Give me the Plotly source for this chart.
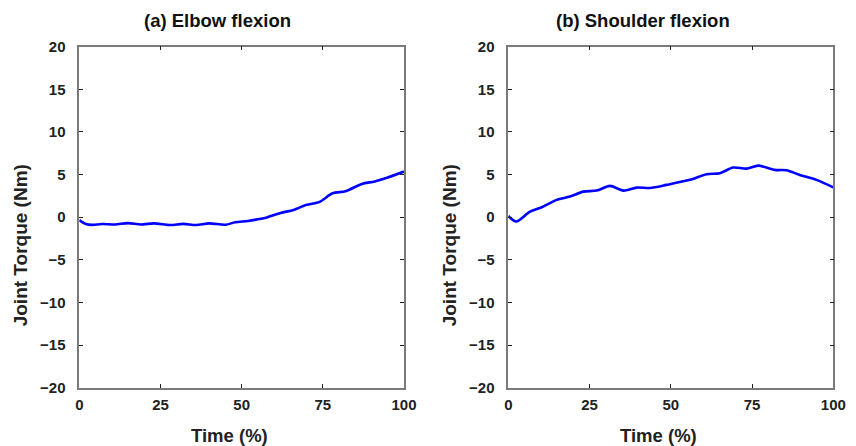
import plotly.graph_objects as go

# Data
elbow_t = [0, 2, 4, 7, 11, 15, 19, 23, 28, 32, 36, 40, 45, 48, 52, 55, 58, 62, 66, 70, 74, 78, 82, 87, 91, 95, 100]
elbow_v = [-0.35, -0.8, -0.9, -0.8, -0.85, -0.7, -0.85, -0.72, -0.92, -0.78, -0.92, -0.72, -0.88, -0.6,
           -0.45, -0.25, 0.0, 0.5, 0.85, 1.45, 1.8, 2.8, 3.05, 3.9, 4.2, 4.65, 5.35]

shoulder_t = [0, 2.4, 6.7, 10.3, 14.9, 19, 23.1, 27.2, 31.3, 35.4, 39.5, 43.6, 48.7, 55.9, 61, 65.1,
              69.2, 73.3, 76.9, 82, 85.6, 89.7, 94.8, 100]
shoulder_v = [0.15, -0.5, 0.66, 1.17, 2.03, 2.42, 3.0, 3.12, 3.67, 3.12, 3.47, 3.43, 3.79, 4.38, 5.04, 5.16,
              5.82, 5.7, 6.05, 5.55, 5.5, 4.96, 4.38, 3.5]

titles = ["(a) Elbow flexion", "(b) Shoulder flexion"]
x_ticks = [0, 25, 50, 75, 100]
y_ticks = [-20, -15, -10, -5, 0, 5, 10, 15, 20]

W, H = 856, 446
FONT = "Liberation Sans, Arial, sans-serif"
TXT = "#222222"

fig = go.Figure()
panels = [
    (elbow_t, elbow_v, 79.3, 404.0, "x", "y", 217.5, 229),
    (shoulder_t, shoulder_v, 508.3, 833.3, "x2", "y2", 642.5, 658),
]
top, bottom = 46.7, 387.7
layout = {}
for i, (t, v, x0, x1, xa, ya, tcx, xtcx) in enumerate(panels):
    fig.add_trace(go.Scatter(x=t, y=v, mode="lines", line=dict(color="#0000ff", width=2.6, shape="spline", smoothing=0.8),
                             xaxis=xa, yaxis=ya, showlegend=False, hoverinfo="skip"))
    sfx = "" if i == 0 else "2"
    layout["xaxis" + sfx] = dict(domain=[x0 / W, x1 / W], range=[0, 100], tickvals=x_ticks,
                                 ticks="inside", ticklen=4, tickcolor="#222", tickwidth=1,
                                 showline=True, linecolor="#7a7a7a", linewidth=1.5, mirror="ticks",
                                 showgrid=False, zeroline=False, anchor="y" + sfx, automargin=False,
                                 ticklabelstandoff=3,
                                 tickfont=dict(family=FONT, size=15, color=TXT, weight="bold"))
    layout["yaxis" + sfx] = dict(domain=[1 - bottom / H, 1 - top / H], range=[-20, 20], tickvals=y_ticks,
                                 ticks="inside", ticklen=4, tickcolor="#222", tickwidth=1,
                                 showline=True, linecolor="#7a7a7a", linewidth=1.5, mirror="ticks",
                                 showgrid=False, zeroline=False, anchor="x" + sfx, automargin=False,
                                 ticklabelstandoff=9,
                                 tickfont=dict(family=FONT, size=15, color=TXT, weight="bold"))
    fig.add_annotation(x=tcx / W, y=1 - 20.7 / H, xref="paper", yref="paper", text="<b>" + titles[i] + "</b>",
                       showarrow=False, font=dict(family=FONT, size=18.5, color="#111"), xanchor="center", yanchor="middle")
    fig.add_annotation(x=xtcx / W, y=1 - 435 / H, xref="paper", yref="paper", text="<b>Time (%)</b>",
                       showarrow=False, font=dict(family=FONT, size=18.5, color=TXT), xanchor="center", yanchor="middle")
    fig.add_annotation(x=(x0 - 59) / W, y=1 - 245 / H, xref="paper", yref="paper", text="<b>Joint Torque (Nm)</b>",
                       showarrow=False, textangle=-90, font=dict(family=FONT, size=19, color=TXT),
                       xanchor="center", yanchor="middle")

fig.update_layout(width=W, height=H, margin=dict(l=0, r=0, t=0, b=0, autoexpand=False), plot_bgcolor="white",
                  paper_bgcolor="white", **layout)
fig.write_html("out.html", post_script="document.body.style.margin='0';document.body.style.overflow='hidden';")
